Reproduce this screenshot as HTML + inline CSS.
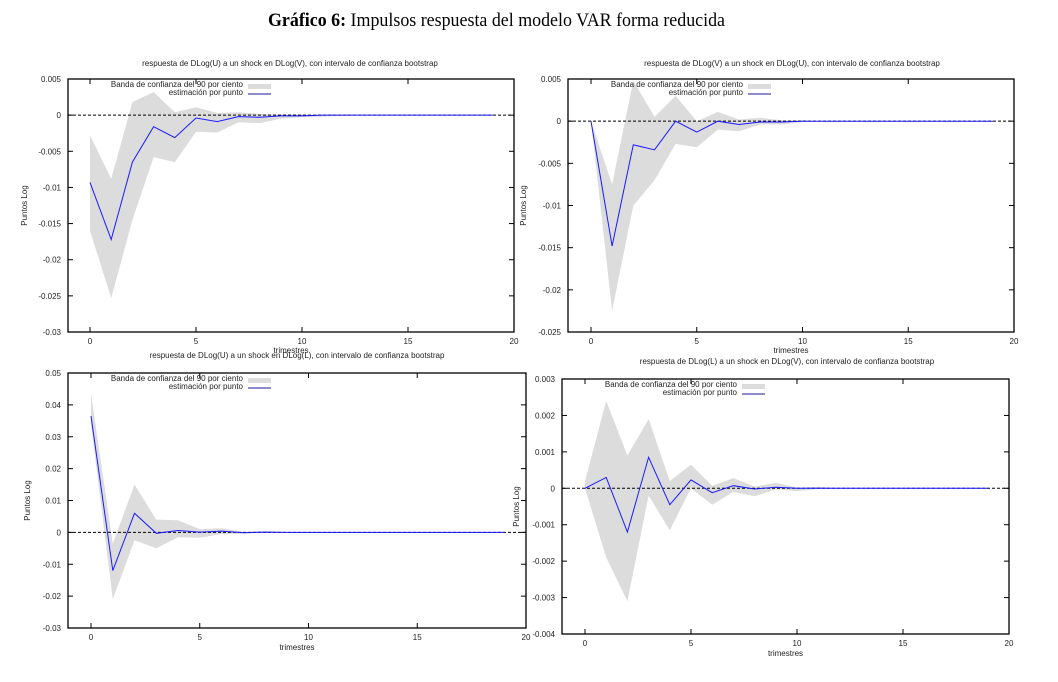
<!DOCTYPE html>
<html><head><meta charset="utf-8">
<style>
html,body{margin:0;padding:0;background:#fff;}
svg{display:block;}
text{font-family:"Liberation Sans",sans-serif;}
</style></head>
<body>
<svg id="chart" width="1058" height="682" viewBox="0 0 1058 682" xmlns="http://www.w3.org/2000/svg">
<text x="268" y="26" font-size="19" textLength="457" lengthAdjust="spacingAndGlyphs" style="font-family:'Liberation Serif',serif"><tspan font-weight="bold">Gráfico 6:</tspan> Impulsos respuesta del modelo VAR forma reducida</text>
</svg>
<script>
// Panel 1: DLog(U) to shock DLog(V)
const p1Mean=[-0.0093,-0.0172,-0.0065,-0.0016,-0.0031,-0.0004,-0.0009,-0.0002,-0.0003,-0.0001,-0.0001,0,0,0,0,0,0,0,0,0];
const p1Upper=[-0.0028,-0.0088,0.0018,0.0032,0.0004,0.0011,0.0003,0.0004,0.0002,0.0001,0.0001,0,0,0,0,0,0,0,0,0];
const p1Lower=[-0.016,-0.0253,-0.0145,-0.0058,-0.0065,-0.0023,-0.0024,-0.001,-0.0011,-0.0005,-0.0003,-0.0002,-0.0001,0,0,0,0,0,0,0];
const p1Ticks=["0.005","0","-0.005","-0.01","-0.015","-0.02","-0.025","-0.03"];
// Panel 2: DLog(V) to shock DLog(U)
const p2Mean=[0,-0.0148,-0.0028,-0.0034,0,-0.0013,0,-0.0004,-0.0001,-0.0001,0,0,0,0,0,0,0,0,0,0];
const p2Upper=[0,-0.0075,0.0048,0.0005,0.003,0,0.0011,0.0002,0.0004,0.0001,0.0001,0,0,0,0,0,0,0,0,0];
const p2Lower=[0,-0.0225,-0.01,-0.007,-0.0027,-0.0031,-0.001,-0.0012,-0.0004,-0.0004,-0.0001,0,0,0,0,0,0,0,0,0];
const p2Ticks=["0.005","0","-0.005","-0.01","-0.015","-0.02","-0.025"];
// Panel 3: DLog(U) to shock DLog(L)
const p3Mean=[0.0365,-0.012,0.006,-0.0003,0.0006,0.0001,0.0004,-0.0001,0.0001,0,0,0,0,0,0,0,0,0,0,0];
const p3Upper=[0.0435,-0.0035,0.015,0.004,0.0038,0.001,0.0013,0.0002,0.0004,0.0001,0,0,0,0,0,0,0,0,0,0];
const p3Lower=[0.034,-0.021,-0.0025,-0.005,-0.0015,-0.0017,-0.0005,-0.0004,-0.0002,-0.0001,0,0,0,0,0,0,0,0,0,0];
const p3Ticks=["0.05","0.04","0.03","0.02","0.01","0","-0.01","-0.02","-0.03"];
// Panel 4: DLog(L) to shock DLog(V)
const p4Mean=[0,0.0003,-0.0012,0.00085,-0.00045,0.00023,-0.00012,0.00007,-0.00002,0.00003,0,0,0,0,0,0,0,0,0,0];
const p4Upper=[0.0002,0.0024,0.0009,0.0019,0.0002,0.00065,0.00007,0.00028,0.00005,0.00015,0.00002,0.00004,0,0,0,0,0,0,0,0];
const p4Lower=[0,-0.0019,-0.0031,-0.0002,-0.00115,0,-0.00045,-0.0001,-0.00022,-0.00003,-0.00008,-0.00002,0,0,0,0,0,0,0,0];
const p4Ticks=["0.003","0.002","0.001","0","-0.001","-0.002","-0.003","-0.004"];
const xTicks=["0","5","10","15","20"];

const NS="http://www.w3.org/2000/svg";
const svg=document.getElementById('chart');
function mk(tag,attrs,parent,txt){const e=document.createElementNS(NS,tag);for(const k in attrs)e.setAttribute(k,attrs[k]);if(txt!==undefined)e.textContent=txt;(parent||svg).appendChild(e);return e;}

function panel(cfg){
  const g=mk('g',{});
  
  
  const L=cfg.L,R=cfg.R,T=cfg.T,B=cfg.B;
  const x0=cfg.x0,x20=cfg.x20;
  const xs=v=>x0+(x20-x0)*v/20;
  const ymax=parseFloat(cfg.ticks[0]),ymin=parseFloat(cfg.ticks[cfg.ticks.length-1]);
  const ys=v=>T+(ymax-v)/(ymax-ymin)*(B-T);
  // band
  let d='';
  cfg.upper.forEach((v,i)=>{d+=(i?'L':'M')+xs(i).toFixed(1)+' '+ys(v).toFixed(1);});
  for(let i=cfg.lower.length-1;i>=0;i--)d+='L'+xs(i).toFixed(1)+' '+ys(cfg.lower[i]).toFixed(1);
  const band=mk('path',{d:d+'Z',fill:'#dcdcdc'},g);
  
  
  // zero line
  const zl=mk('line',{x1:L,x2:R,y1:ys(0),y2:ys(0),stroke:'#000','stroke-width':1,'stroke-dasharray':'3,2'},g);
  
  
  // mean line
  const pts=cfg.mean.map((v,i)=>xs(i).toFixed(1)+','+ys(v).toFixed(1)).join(' ');
  const ml=mk('polyline',{points:pts,fill:'none',stroke:'#1a1aff','stroke-width':1},g);
  
  
  // frame
  const fr=mk('rect',{x:L,y:T,width:R-L,height:B-T,fill:'none',stroke:'#000','stroke-width':1.3},g);
  
  
  // y ticks
  cfg.ticks.forEach(t=>{const y=ys(parseFloat(t));
    mk('line',{x1:L,x2:L+5,y1:y,y2:y,stroke:'#000'},g);
    mk('line',{x1:R,x2:R-5,y1:y,y2:y,stroke:'#000'},g);
    const tx=mk('text',{x:L-7,y:y+3,'font-size':8,'text-anchor':'end',fill:'#222'},g,t);
    
    
  });
  xTicks.forEach(t=>{const x=xs(parseFloat(t));
    mk('line',{x1:x,x2:x,y1:B,y2:B-5,stroke:'#000'},g);
    mk('line',{x1:x,x2:x,y1:T,y2:T+5,stroke:'#000'},g);
    const tx=mk('text',{x:x,y:B+12,'font-size':8,'text-anchor':'middle',fill:'#222'},g,t);
    
    
  });
  const tt=mk('text',{x:cfg.tx,y:cfg.ty,'font-size':8,'text-anchor':'middle',fill:'#222'},g,cfg.title);
  
  
  const xl=mk('text',{x:(L+R)/2,y:cfg.xly,'font-size':8,'text-anchor':'middle',fill:'#222'},g,'trimestres');
  
  
  const yl=mk('text',{x:0,y:0,'font-size':8,'text-anchor':'middle',fill:'#222',transform:'translate('+cfg.ylx+','+(T+B)/2+') rotate(-90)'},g,'Puntos Log');
  
  
  // legend
  const lx=L+175;
  const l1=mk('text',{x:lx,y:T+8,'font-size':8,'text-anchor':'end',fill:'#222'},g,'Banda de confianza del 90 por ciento');
  
  
  const sw=mk('rect',{x:lx+5,y:T+5,width:23,height:5,fill:'#dcdcdc'},g);
  
  
  const l2=mk('text',{x:lx,y:T+16,'font-size':8,'text-anchor':'end',fill:'#222'},g,'estimación por punto');
  
  
  const sl=mk('line',{x1:lx+5,x2:lx+28,y1:T+15,y2:T+15,stroke:'#1a1a99','stroke-width':1},g);
  
  
}
panel({name:'panel-u-shock-v',L:68,R:514,T:79,B:332,x0:90,x20:514,ticks:p1Ticks,mean:p1Mean,upper:p1Upper,lower:p1Lower,
  title:'respuesta de DLog(U) a un shock en DLog(V), con intervalo de confianza bootstrap',tx:290,ty:66,xly:353,ylx:27});
panel({name:'panel-v-shock-u',L:568,R:1014,T:79,B:332,x0:591,x20:1014,ticks:p2Ticks,mean:p2Mean,upper:p2Upper,lower:p2Lower,
  title:'respuesta de DLog(V) a un shock en DLog(U), con intervalo de confianza bootstrap',tx:792,ty:66,xly:353,ylx:526});
panel({name:'panel-u-shock-l',L:68,R:526,T:373,B:628,x0:91,x20:526,ticks:p3Ticks,mean:p3Mean,upper:p3Upper,lower:p3Lower,
  title:'respuesta de DLog(U) a un shock en DLog(L), con intervalo de confianza bootstrap',tx:297,ty:358,xly:650,ylx:30});
panel({name:'panel-l-shock-v',L:562,R:1009,T:379,B:634,x0:585,x20:1009,ticks:p4Ticks,mean:p4Mean,upper:p4Upper,lower:p4Lower,
  title:'respuesta de DLog(L) a un shock en DLog(V), con intervalo de confianza bootstrap',tx:787,ty:364,xly:656,ylx:519});
</script>
</body></html>
